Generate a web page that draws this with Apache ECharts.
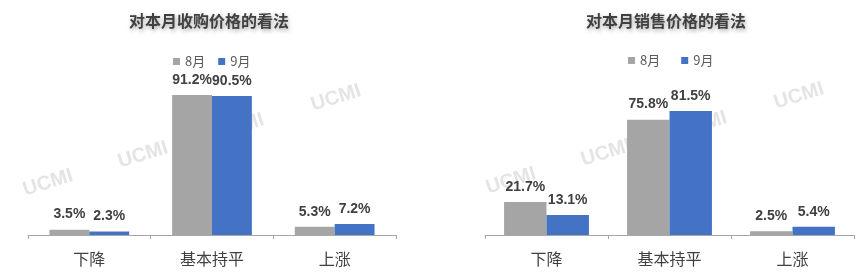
<!DOCTYPE html>
<html>
<head>
<meta charset="utf-8">
<script src="https://cdn.jsdelivr.net/npm/echarts@6/dist/echarts.min.js"></script>
<style>
html,body{margin:0;padding:0;background:#fff;}
#c{width:862px;height:273px;}
</style>
</head>
<body>
<div id="c"></div>
<script>
var categories = ['下降', '基本持平', '上涨'];
var seriesNames = ['8月', '9月'];
var titles = ['对本月收购价格的看法', '对本月销售价格的看法'];
var purchaseAug = [3.5, 91.2, 5.3];
var purchaseSep = [2.3, 90.5, 7.2];
var salesAug = [21.7, 75.8, 2.5];
var salesSep = [13.1, 81.5, 5.4];

var GRAY = '#a5a5a5', BLUE = '#4472c4', TXT = '#404040';

var labelStyle = {
  show: true, position: 'top', distance: 8,
  fontFamily: '"Liberation Sans", Arial, sans-serif',
  fontWeight: 'bold', fontSize: 14, color: TXT,
  formatter: function (p) { return p.value.toFixed(1) + '%'; }
};

function bar(name, data, idx, color, gap) {
  return {
    type: 'bar', name: name, data: data, xAxisIndex: idx, yAxisIndex: idx,
    barGap: '0%', barCategoryGap: gap,
    itemStyle: { color: color },
    label: labelStyle, z: 2
  };
}

function xAxis(idx) {
  return {
    type: 'category', data: categories, gridIndex: idx,
    axisLine: { lineStyle: { color: '#a6a6a6', width: 1 } },
    axisTick: { show: true, length: 4, lineStyle: { color: '#a6a6a6' } },
    axisLabel: { fontSize: 16, color: TXT, margin: 16, fontFamily: '"Noto Sans CJK SC", sans-serif' }
  };
}
function yAxis(idx) {
  return { type: 'value', gridIndex: idx, min: 0, max: 100, show: false, splitLine: { show: false } };
}

var wm = [];
var wmPos = [[48, 183], [143, 155], [239, 127], [336, 98]];
[0, 463].forEach(function (off, k) {
  wmPos.forEach(function (p) {
    wm.push({
      type: 'text', x: p[0] + off, y: p[1] - k * 2, rotation: 0.3, z: -10, silent: true,
      style: { text: 'UCMI', fill: '#e4e4e4', font: 'bold 20px "Liberation Sans", sans-serif',
               align: 'center', verticalAlign: 'middle' }
    });
  });
});

var titleStyle = {
  fontSize: 16, fontWeight: 'bold', color: TXT,
  fontFamily: '"Noto Sans CJK SC", sans-serif',
  textShadowColor: 'rgba(0,0,0,0.35)', textShadowBlur: 4, textShadowOffsetX: 1, textShadowOffsetY: 2
};
var legendText = { fontSize: 13, color: '#595959', fontFamily: '"Noto Sans CJK SC", sans-serif' };

var chart = echarts.init(document.getElementById('c'), null, { renderer: 'canvas' });
chart.setOption({
  animation: false,
  backgroundColor: '#fff',
  graphic: wm,
  title: [
    { text: titles[0], left: 204, top: 8, textAlign: 'center', textStyle: titleStyle },
    { text: titles[1], left: 661, top: 8, textAlign: 'center', textStyle: titleStyle }
  ],
  legend: [
    { data: seriesNames, left: 168, top: 50, itemWidth: 7, itemHeight: 7, itemGap: 13, icon: 'rect', textStyle: legendText },
    { data: seriesNames, left: 623, top: 49, itemWidth: 7, itemHeight: 7, itemGap: 21, icon: 'rect', textStyle: legendText }
  ],
  grid: [
    { left: 28, right: 466, top: 81.5, bottom: 38 },
    { left: 485, right: 8, top: 82.8, bottom: 38 }
  ],
  xAxis: [xAxis(0), xAxis(1)],
  yAxis: [yAxis(0), yAxis(1)],
  series: [
    bar(seriesNames[0], purchaseAug, 0, GRAY, '35%'),
    bar(seriesNames[1], purchaseSep, 0, BLUE, '35%'),
    bar(seriesNames[0], salesAug, 1, GRAY, '31%'),
    bar(seriesNames[1], salesSep, 1, BLUE, '31%')
  ]
});
</script>
</body>
</html>
